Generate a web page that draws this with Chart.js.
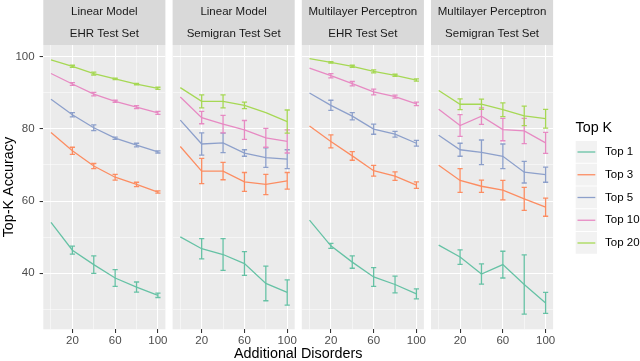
<!DOCTYPE html>
<html><head><meta charset="utf-8">
<script src="https://cdn.jsdelivr.net/npm/chart.js@4"></script>
<style>
html,body{margin:0;padding:0;background:#fff;}
#wrap{position:relative;width:640px;height:361px;overflow:hidden;}
#wrap canvas{position:absolute;left:0;top:0;}
</style></head><body>
<div id="wrap">
<canvas id="c0" width="640" height="361"></canvas>
<canvas id="c1" width="640" height="361"></canvas>
<canvas id="c2" width="640" height="361"></canvas>
<canvas id="c3" width="640" height="361"></canvas>
</div>
<script>
// ---- data ----
const xValues = [0, 20, 40, 60, 80, 100];
const xMajorTicks = [20, 60, 100];
const xMinorTicks = [0, 40, 80];
const yMajorTicks = [40, 60, 80, 100];
const yMinorTicks = [30, 50, 70, 90];
const seriesNames = ["Top 1", "Top 3", "Top 5", "Top 10", "Top 20"];
const panelModels = ["Linear Model", "Linear Model", "Multilayer Perceptron", "Multilayer Perceptron"];
const panelTestSets = ["EHR Test Set", "Semigran Test Set", "EHR Test Set", "Semigran Test Set"];

// mean accuracy per series (Top 1, 3, 5, 10, 20)
const lmEhrMeans = [
  [54.1, 46.4, 42.4, 38.7, 36.2, 33.9],
  [79.0, 73.9, 69.7, 66.6, 64.6, 62.5],
  [88.2, 83.9, 80.3, 77.4, 75.5, 73.6],
  [95.3, 92.4, 89.6, 87.6, 86.0, 84.4],
  [99.1, 97.3, 95.3, 93.8, 92.4, 91.2]
];
const lmEhrErrors = [
  [null, 1.1, 2.4, 2.3, 1.4, 0.6],
  [null, 1.0, 0.7, 0.8, 0.6, 0.3],
  [null, 0.6, 0.8, 0.3, 0.5, 0.3],
  [null, 0.4, 0.5, 0.3, 0.4, 0.4],
  [null, 0.3, 0.4, 0.2, 0.2, 0.3]
];
const lmSemigranMeans = [
  [50.1, 46.8, 45.2, 42.7, 37.2, 34.7],
  [75.1, 68.3, 68.3, 65.3, 64.6, 65.6],
  [82.4, 75.8, 76.1, 73.3, 72.0, 71.6],
  [88.8, 83.1, 81.3, 79.7, 77.5, 76.5],
  [91.4, 87.6, 87.6, 86.5, 84.5, 82.0]
];
const lmSemigranErrors = [
  [null, 2.8, 4.4, 3.3, 4.8, 3.5],
  [null, 3.5, 2.4, 2.6, 2.8, 2.3],
  [null, 3.1, 2.7, 0.9, 2.7, 2.6],
  [null, 1.7, 2.4, 2.6, 2.6, 3.2],
  [null, 1.8, 1.8, 0.9, null, 3.2]
];
const mlpEhrMeans = [
  [54.7, 47.6, 43.1, 39.0, 36.9, 34.3],
  [80.8, 76.5, 72.5, 68.4, 66.9, 64.4],
  [89.9, 86.5, 83.5, 79.9, 78.5, 76.0],
  [96.8, 94.7, 92.5, 90.2, 88.9, 86.9],
  [99.4, 98.4, 97.3, 95.9, 94.8, 93.5]
];
const mlpEhrErrors = [
  [null, 0.7, 1.7, 2.6, 2.3, 1.4],
  [null, 1.8, 1.2, 1.5, 1.2, 0.9],
  [null, 1.4, 1.0, 1.4, 0.8, 0.8],
  [null, 0.6, 0.6, 0.8, 0.4, 0.5],
  [null, 0.2, 0.3, 0.4, 0.3, 0.3]
];
const mlpSemigranMeans = [
  [47.8, 44.5, 39.8, 42.4, 36.9, 31.8],
  [69.9, 65.7, 64.1, 63.0, 60.6, 58.3],
  [78.2, 74.2, 73.5, 72.4, 68.0, 67.3],
  [85.4, 80.9, 83.5, 79.8, 79.4, 76.1],
  [90.6, 86.8, 86.8, 85.3, 83.6, 82.8]
];
const mlpSemigranErrors = [
  [null, 2.0, 2.8, 3.7, 8.2, 2.9],
  [null, 3.3, 1.7, 2.7, 3.2, 2.5],
  [null, 1.8, 3.4, 3.4, 3.0, 2.1],
  [null, 3.0, 2.3, 3.1, 3.5, 2.9],
  [null, 1.5, 1.4, 1.9, 2.7, 2.6]
];

// ---- styling / layout ----
const seriesColors = ["#66C2A5", "#FC8D62", "#8DA0CB", "#E78AC3", "#A6D854"];
const panelMeans = [lmEhrMeans, lmSemigranMeans, mlpEhrMeans, mlpSemigranMeans];
const panelErrors = [lmEhrErrors, lmSemigranErrors, mlpEhrErrors, mlpSemigranErrors];
const panelLeft = [43.3, 172.6, 301.8, 431.0];
const panelRight = [165.4, 294.7, 423.9, 553.1];
const FONT = "'Liberation Sans', Arial, Helvetica, sans-serif";
Chart.defaults.font.family = FONT;
const LINE_W = 1.3;

function isIn(arr, v) { return arr.some(a => Math.abs(a - v) < 1e-6); }

function makePlugin(p) {
  return {
    id: 'panel' + p,
    beforeDraw(chart) {
      const ctx = chart.ctx, a = chart.chartArea;
      ctx.save();
      ctx.fillStyle = '#EBEBEB';
      ctx.fillRect(a.left, a.top, a.right - a.left, a.bottom - a.top);
      // strip
      ctx.fillStyle = '#D9D9D9';
      ctx.fillRect(a.left, 0, a.right - a.left, a.top);
      ctx.fillStyle = '#1A1A1A';
      ctx.font = '11.5px ' + FONT;
      ctx.textAlign = 'center';
      ctx.textBaseline = 'middle';
      const cx = (a.left + a.right) / 2;
      ctx.fillText(panelModels[p], cx, 12);
      ctx.fillText(panelTestSets[p], cx, 34.3);
      ctx.restore();
    },
    afterDatasetsDraw(chart) {
      const ctx = chart.ctx, xs = chart.scales.x, ys = chart.scales.y;
      const errs = panelErrors[p], means = panelMeans[p];
      ctx.save();
      ctx.lineWidth = LINE_W;
      for (let k = 0; k < errs.length; k++) {
        ctx.strokeStyle = seriesColors[k];
        for (let j = 0; j < xValues.length; j++) {
          const e = errs[k][j];
          if (e === null) continue;
          const px = xs.getPixelForValue(xValues[j]);
          const y1 = ys.getPixelForValue(means[k][j] + e);
          const y2 = ys.getPixelForValue(means[k][j] - e);
          ctx.beginPath();
          ctx.moveTo(px, y1); ctx.lineTo(px, y2);
          ctx.moveTo(px - 2.6, y1); ctx.lineTo(px + 2.6, y1);
          ctx.moveTo(px - 2.6, y2); ctx.lineTo(px + 2.6, y2);
          ctx.stroke();
        }
      }
      ctx.restore();
    },
    afterDraw(chart) {
      const ctx = chart.ctx;
      if (p === 0) {
        ctx.save();
        ctx.fillStyle = '#000';
        ctx.font = '14.35px ' + FONT;
        ctx.textAlign = 'center';
        ctx.textBaseline = 'middle';
        ctx.fillText('Additional Disorders', (panelLeft[0] + panelRight[3]) / 2, 354);
        ctx.restore();
      }
      if (p === 3) {
        ctx.save();
        ctx.fillStyle = '#000';
        ctx.font = '14.35px ' + FONT;
        ctx.textAlign = 'left';
        ctx.textBaseline = 'middle';
        ctx.fillText('Top K', 575.5, 128);
        ctx.font = '11.5px ' + FONT;
        for (let k = 0; k < seriesNames.length; k++) {
          const top = 141 + k * 22.75;
          ctx.fillStyle = '#F2F2F2';
          ctx.fillRect(575.7, top, 21.3, 21.75);
          ctx.strokeStyle = seriesColors[k];
          ctx.lineWidth = LINE_W;
          ctx.beginPath();
          ctx.moveTo(577.5, top + 11); ctx.lineTo(595.3, top + 11);
          ctx.stroke();
          ctx.fillStyle = '#000';
          ctx.fillText(seriesNames[k], 605, top + 11);
        }
        ctx.restore();
      }
    }
  };
}

for (let p = 0; p < 4; p++) {
  const means = panelMeans[p];
  new Chart(document.getElementById('c' + p), {
    type: 'line',
    data: {
      datasets: seriesNames.map((n, k) => ({
        label: n,
        data: xValues.map((x, j) => ({ x: x, y: means[k][j] })),
        borderColor: seriesColors[k],
        backgroundColor: seriesColors[k],
        borderWidth: LINE_W,
        pointRadius: 0,
        tension: 0,
        fill: false
      }))
    },
    options: {
      responsive: false,
      animation: false,
      devicePixelRatio: 1,
      events: [],
      layout: { padding: { left: p === 0 ? 0 : panelLeft[p], right: 640 - panelRight[p], top: 45, bottom: 0 } },
      plugins: { legend: { display: false }, tooltip: { enabled: false } },
      scales: {
        x: {
          type: 'linear', min: -7.2, max: 107,
          afterFit(s) { s.height = 31.7; },
          afterBuildTicks(s) { s.ticks = xMinorTicks.concat(xMajorTicks).sort((a, b) => a - b).map(v => ({ value: v })); },
          ticks: {
            autoSkip: false, maxRotation: 0, padding: 1, color: '#4D4D4D', font: { size: 11.5 },
            callback: v => isIn(xMajorTicks, v) ? String(v) : ''
          },
          grid: {
            color: '#FFFFFF',
            lineWidth: c => (c.tick && isIn(xMajorTicks, c.tick.value)) ? 1.07 : 0.53,
            tickColor: c => (c.tick && isIn(xMajorTicks, c.tick.value)) ? '#333333' : 'rgba(0,0,0,0)',
            tickWidth: 1.07, tickLength: 3.7, drawTicks: true
          },
          border: { display: false }
        },
        y: {
          type: 'linear', min: 24.5, max: 103.2,
          afterFit(s) { s.width = p === 0 ? 43.3 : 0; },
          afterBuildTicks(s) { s.ticks = yMinorTicks.concat(yMajorTicks).sort((a, b) => a - b).map(v => ({ value: v })); },
          ticks: {
            display: p === 0, autoSkip: false, padding: 5, color: '#4D4D4D', font: { size: 11.5 },
            callback: v => isIn(yMajorTicks, v) ? String(v) : ''
          },
          grid: {
            color: '#FFFFFF',
            lineWidth: c => (c.tick && isIn(yMajorTicks, c.tick.value)) ? 1.07 : 0.53,
            tickColor: c => (c.tick && isIn(yMajorTicks, c.tick.value)) ? '#333333' : 'rgba(0,0,0,0)',
            tickWidth: 1.07, tickLength: p === 0 ? 3.7 : 0, drawTicks: p === 0
          },
          border: { display: false },
          title: {
            display: p === 0, text: 'Top-K Accuracy', color: '#000',
            font: { size: 14.35 }, padding: { top: 0, bottom: 0 }
          }
        }
      }
    },
    plugins: [makePlugin(p)]
  });
}
</script>
</body></html>
